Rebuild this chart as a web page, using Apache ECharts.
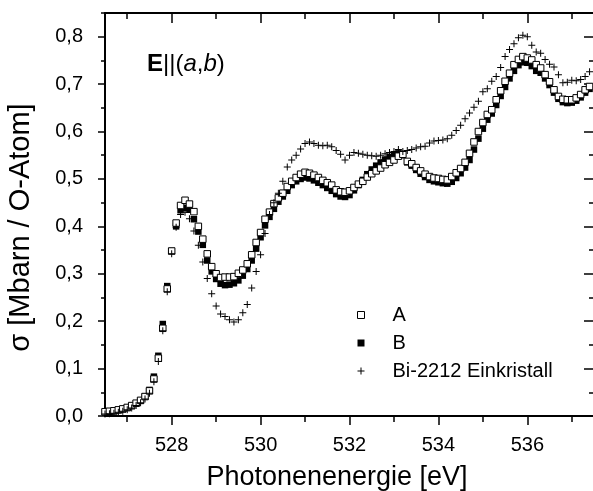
<!DOCTYPE html>
<html>
<head>
<meta charset="utf-8">
<script src="https://cdn.jsdelivr.net/npm/echarts@6/dist/echarts.min.js"></script>
<style>html,body{margin:0;padding:0;background:#fff;}#c{width:593px;height:491px;}</style>
</head>
<body>
<div id="c"></div>
<script>
const energy = [
526.5,526.6,526.7,526.8,526.9,527.0,527.1,527.2,527.3,527.4,
527.5,527.6,527.7,527.8,527.9,528.0,528.1,528.2,528.3,528.4,
528.5,528.6,528.7,528.8,528.9,529.0,529.1,529.2,529.3,529.4,
529.5,529.6,529.7,529.8,529.9,530.0,530.1,530.2,530.3,530.4,
530.5,530.6,530.7,530.8,530.9,531.0,531.1,531.2,531.3,531.4,
531.5,531.6,531.7,531.8,531.9,532.0,532.1,532.2,532.3,532.4,
532.5,532.6,532.7,532.8,532.9,533.0,533.1,533.2,533.3,533.4,
533.5,533.6,533.7,533.8,533.9,534.0,534.1,534.2,534.3,534.4,
534.5,534.6,534.7,534.8,534.9,535.0,535.1,535.2,535.3,535.4,
535.5,535.6,535.7,535.8,535.9,536.0,536.1,536.2,536.3,536.4,
536.5,536.6,536.7,536.8,536.9,537.0,537.1,537.2,537.3,537.4
];
const seriesA = [
0.009,0.010,0.011,0.013,0.015,0.018,0.022,0.027,0.033,0.041,
0.053,0.078,0.122,0.185,0.268,0.348,0.407,0.444,0.455,0.447,
0.431,0.400,0.373,0.342,0.315,0.300,0.292,0.293,0.293,0.294,
0.301,0.308,0.321,0.340,0.366,0.387,0.415,0.430,0.448,0.460,
0.470,0.484,0.495,0.503,0.510,0.514,0.512,0.508,0.503,0.497,
0.492,0.487,0.477,0.473,0.472,0.475,0.482,0.489,0.495,0.504,
0.511,0.517,0.523,0.530,0.535,0.540,0.548,0.552,0.537,0.532,
0.524,0.517,0.510,0.505,0.502,0.501,0.499,0.498,0.505,0.513,
0.522,0.535,0.554,0.578,0.600,0.619,0.636,0.646,0.667,0.686,
0.706,0.723,0.741,0.752,0.758,0.755,0.751,0.741,0.734,0.720,
0.705,0.688,0.674,0.668,0.667,0.667,0.671,0.678,0.688,0.695
];
const seriesB = [
0.008,0.009,0.010,0.012,0.014,0.017,0.021,0.026,0.032,0.041,
0.055,0.083,0.127,0.194,0.274,0.348,0.400,0.434,0.439,0.435,
0.415,0.389,0.361,0.328,0.305,0.289,0.279,0.276,0.277,0.280,
0.286,0.296,0.310,0.328,0.353,0.377,0.402,0.420,0.437,0.452,
0.463,0.475,0.487,0.495,0.500,0.503,0.501,0.497,0.492,0.487,
0.481,0.475,0.468,0.463,0.462,0.466,0.476,0.487,0.498,0.510,
0.520,0.528,0.535,0.541,0.546,0.550,0.554,0.550,0.535,0.528,
0.519,0.511,0.504,0.498,0.495,0.493,0.491,0.490,0.494,0.502,
0.512,0.524,0.540,0.562,0.585,0.606,0.625,0.638,0.656,0.675,
0.694,0.712,0.728,0.740,0.746,0.745,0.738,0.728,0.724,0.712,
0.698,0.682,0.669,0.662,0.660,0.661,0.665,0.672,0.682,0.690
];
const seriesC = [
0.004,0.005,0.006,0.008,0.010,0.013,0.017,0.022,0.028,0.036,
0.048,0.072,0.115,0.180,0.262,0.342,0.398,0.425,0.430,0.416,
0.390,0.360,0.325,0.290,0.258,0.232,0.215,0.210,0.203,0.198,
0.203,0.218,0.235,0.270,0.305,0.340,0.385,0.425,0.450,0.470,
0.495,0.525,0.540,0.550,0.563,0.575,0.578,0.575,0.571,0.570,
0.571,0.568,0.560,0.552,0.540,0.550,0.556,0.554,0.552,0.550,
0.549,0.548,0.550,0.553,0.556,0.558,0.562,0.558,0.560,0.562,
0.565,0.568,0.569,0.576,0.580,0.581,0.582,0.585,0.592,0.602,
0.613,0.627,0.639,0.651,0.664,0.684,0.690,0.706,0.716,0.735,
0.758,0.773,0.785,0.798,0.803,0.800,0.782,0.768,0.765,0.752,
0.742,0.736,0.720,0.703,0.704,0.708,0.707,0.710,0.716,0.726
];
const seriesNames = ['A', 'B', 'Bi-2212 Einkristall'];
const xMajorTicks = [528, 530, 532, 534, 536];
const xMinorTicks = [527, 529, 531, 533, 535, 537];
const yMajorTicks = [0, 0.1, 0.2, 0.3, 0.4, 0.5, 0.6, 0.7, 0.8];
const yMinorTicks = [0.05, 0.15, 0.25, 0.35, 0.45, 0.55, 0.65, 0.75, 0.85];
const xTitle = 'Photonenenergie [eV]';
const yTitle = 'σ [Mbarn / O-Atom]';

const FONT = 'Liberation Sans, Arial, sans-serif';
const plus = 'path://M3,0h1v3h3v1h-3v3h-1v-3h-3v-1h3z';
const pair = arr => energy.map((x, i) => [x, arr[i]]);

const xBase = (pos, ticks, len, inside, showLine, showLabel, name) => ({
  type: 'value', position: pos, min: 526.5, max: 537.5, gridIndex: 0,
  axisLine: {show: showLine, onZero: false, lineStyle: {color: '#000', width: 2}},
  axisTick: {show: true, inside: inside, length: len, customValues: ticks, lineStyle: {color: '#000', width: 1.5}},
  axisLabel: showLabel ? {show: true, customValues: xMajorTicks, margin: 19, color: '#000', fontSize: 20, fontFamily: FONT} : {show: false},
  splitLine: {show: false},
  name: name || '', nameLocation: 'middle', nameGap: 48,
  nameTextStyle: {color: '#000', fontSize: 27, fontFamily: FONT, padding: [0, 25, 0, 0]}
});
const yBase = (pos, ticks, len, inside, showLine, showLabel, name) => ({
  type: 'value', position: pos, min: 0, max: 0.85, gridIndex: 0,
  axisLine: {show: showLine, onZero: false, lineStyle: {color: '#000', width: 2}},
  axisTick: {show: true, inside: inside, length: len, customValues: ticks, lineStyle: {color: '#000', width: 1.5}},
  axisLabel: showLabel ? {show: true, customValues: yMajorTicks, margin: 22, color: '#000', fontSize: 20, fontFamily: FONT,
    formatter: v => v.toFixed(1).replace('.', ',')} : {show: false},
  splitLine: {show: false},
  name: name || '', nameLocation: 'middle', nameGap: 70,
  nameTextStyle: {color: '#000', fontSize: 29, fontFamily: FONT, padding: [0, 26, 0, 0]}
});

const chart = echarts.init(document.getElementById('c'), null, {renderer: 'canvas'});
chart.setOption({
  animation: false,
  backgroundColor: '#fff',
  grid: {left: 105, top: 13, width: 489, height: 403, containLabel: false, outerBoundsMode: 'none'},
  xAxis: [
    xBase('bottom', xMajorTicks, 9, false, true, true, xTitle),
    xBase('bottom', xMinorTicks, 6, false, false, false),
    xBase('top', xMajorTicks, 10, true, true, false),
    xBase('top', xMinorTicks, 6, true, false, false)
  ],
  yAxis: [
    yBase('left', yMajorTicks, 7, false, true, true, yTitle),
    yBase('left', yMinorTicks, 4, false, false, false),
    yBase('right', yMajorTicks, 10, true, true, false),
    yBase('right', yMinorTicks, 5, true, false, false)
  ],
  legend: {
    orient: 'vertical', left: 357, top: 305, padding: 0, itemWidth: 7, itemHeight: 7, itemGap: 8,
    textStyle: {color: '#000', fontSize: 20, fontFamily: FONT, lineHeight: 20, padding: [0, 0, 0, 23]},
    data: [
      {name: seriesNames[0], icon: 'rect', itemStyle: {color: '#fff', borderColor: '#000', borderWidth: 1}},
      {name: seriesNames[1], icon: 'rect', itemStyle: {color: '#000', borderWidth: 0}},
      {name: seriesNames[2], icon: plus, itemStyle: {color: '#000', borderWidth: 0}}
    ]
  },
  graphic: [{
    type: 'text', left: 147, top: 52,
    style: {
      text: '{b|E}{n|||(}{i|a}{n|,}{i|b}{n|)}',
      fill: '#000', fontSize: 24, fontFamily: FONT,
      rich: {
        b: {fontWeight: 'bold', fontSize: 24, fontFamily: FONT, fill: '#000'},
        n: {fontSize: 24, fontFamily: FONT, fill: '#000'},
        i: {fontStyle: 'italic', fontSize: 24, fontFamily: FONT, fill: '#000'}
      }
    }
  }],
  series: [
    {name: seriesNames[1], type: 'scatter', xAxisIndex: 0, yAxisIndex: 0, symbol: 'rect', symbolSize: 6.5,
      itemStyle: {color: '#000', opacity: 1}, data: pair(seriesB)},
    {name: seriesNames[0], type: 'scatter', xAxisIndex: 0, yAxisIndex: 0, symbol: 'rect', symbolSize: 6.5,
      itemStyle: {color: '#fff', borderColor: '#000', borderWidth: 1, opacity: 1}, data: pair(seriesA)},
    {name: seriesNames[2], type: 'scatter', xAxisIndex: 0, yAxisIndex: 0, symbol: plus, symbolSize: 7,
      itemStyle: {color: '#000', opacity: 1}, data: pair(seriesC)}
  ]
});
</script>
</body>
</html>
